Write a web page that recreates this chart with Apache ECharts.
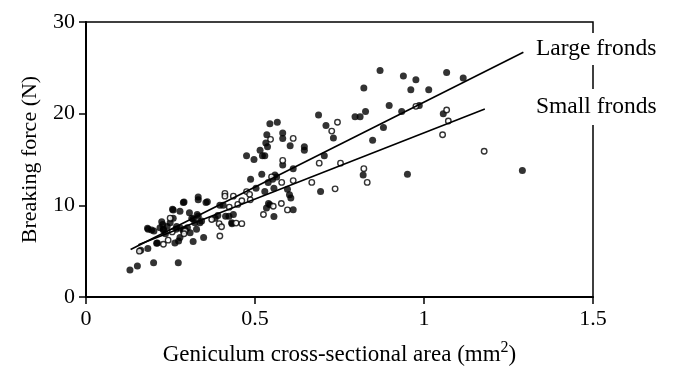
<!DOCTYPE html>
<html>
<head>
<meta charset="utf-8">
<script src="https://cdn.jsdelivr.net/npm/echarts@6/dist/echarts.min.js"></script>
<style>
html,body{margin:0;padding:0;background:#fff;}
#chart{width:674px;height:371px;}
</style>
</head>
<body>
<div id="chart"></div>
<script>
// Large fronds (filled circles): [area mm^2, breaking force N]
var largeFronds = [
[0.130,2.95],[0.152,3.38],[0.200,3.74],[0.273,3.74],
[0.162,5.1],[0.183,5.3],[0.209,5.86],[0.263,5.9],[0.274,6.1],[0.278,6.5],[0.317,6.05],[0.348,6.5],[0.211,5.9],
[0.182,7.5],[0.194,7.3],[0.201,7.2],[0.219,7.55],[0.229,7.3],[0.235,6.9],[0.224,8.2],[0.227,7.9],[0.240,7.7],
[0.249,8.1],[0.268,7.7],[0.280,7.5],[0.293,7.3],[0.300,7.55],[0.308,7.0],[0.327,7.4],[0.184,7.4],[0.229,7.4],
[0.258,8.6],[0.313,8.6],[0.337,8.1],[0.329,9.0],[0.258,9.5],[0.288,10.3],[0.266,7.4],[0.288,7.2],
[0.256,9.57],[0.278,9.35],[0.290,10.36],[0.306,9.2],[0.332,8.8],[0.317,8.5],[0.322,8.1],[0.342,8.3],
[0.332,10.9],[0.332,10.6],[0.355,10.3],[0.359,10.4],[0.382,8.6],[0.390,8.9],
[0.396,10.0],[0.406,10.0],[0.413,8.8],[0.423,8.8],[0.432,7.99],[0.436,9.0],[0.431,8.1],
[0.475,15.4],[0.487,12.84],[0.497,15.0],[0.503,11.87],[0.515,16.0],[0.520,13.4],[0.522,15.4],[0.529,15.4],
[0.529,11.5],[0.532,16.8],[0.537,16.4],[0.535,17.7],[0.539,12.5],[0.544,18.9],[0.552,12.84],[0.556,11.87],
[0.559,13.3],[0.564,13.1],[0.566,19.07],[0.582,17.9],[0.582,17.3],[0.582,14.4],[0.604,16.5],[0.646,16.4],[0.646,16.0],
[0.613,14.0],[0.596,11.76],[0.602,11.15],[0.606,10.8],[0.544,10.07],[0.534,9.71],[0.556,8.77],[0.613,9.53],[0.540,10.2],
[0.688,19.86],[0.694,11.5],[0.705,15.4],[0.710,18.7],[0.732,17.34],[0.796,19.67],[0.811,19.67],[0.827,20.25],
[0.822,22.8],[0.820,13.3],[0.848,17.1],[0.870,24.7],[0.880,18.5],[0.897,20.9],[0.934,20.25],[0.939,24.1],
[0.951,13.4],[0.961,22.6],[0.976,23.7],[0.986,20.9],[1.014,22.6],[1.057,20.0],[1.067,24.5],[1.116,23.9],[1.291,13.8]
];
// Small fronds (open circles)
var smallFronds = [
[0.158,5.0],[0.229,5.75],[0.243,6.2],[0.255,7.1],[0.249,8.6],[0.293,7.2],[0.290,6.9],
[0.372,8.45],[0.394,8.0],[0.401,7.66],[0.396,6.65],[0.411,11.3],[0.411,11.0],[0.424,9.8],[0.436,11.0],
[0.444,8.06],[0.449,10.1],[0.461,10.5],[0.461,8.0],[0.475,11.5],[0.484,11.2],[0.486,10.6],[0.525,9.0],
[0.546,17.2],[0.549,13.1],[0.554,9.9],[0.578,10.2],[0.596,9.5],[0.579,12.5],[0.582,14.9],[0.613,17.3],
[0.613,12.7],[0.668,12.5],[0.690,14.6],[0.727,18.1],[0.744,19.07],[0.737,11.8],[0.753,14.6],[0.822,14.0],
[0.832,12.5],[0.976,20.8],[1.067,20.4],[1.072,19.2],[1.055,17.7],[1.178,15.9]
];
// Fitted regression lines (end points)
var largeLine = [[0.132,5.18],[1.294,26.7]];
var smallLine = [[0.155,5.69],[1.180,20.5]];
var lineLabels = ['Large fronds','Small fronds'];
var xTitle = 'Geniculum cross-sectional area (mm';
var yTitle = 'Breaking force (N)';

var FONT = '"Liberation Serif", "Times New Roman", serif';
var chart = echarts.init(document.getElementById('chart'));
chart.setOption({
  animation:false,
  backgroundColor:'#fff',
  grid:{left:86,right:81,top:22,bottom:71,show:true,borderColor:'#000',borderWidth:1.5,backgroundColor:'transparent'},
  xAxis:{
    type:'value',min:0,max:1.5,interval:0.5,
    axisLine:{show:true,lineStyle:{color:'#000',width:2}},
    axisTick:{show:true,inside:false,length:7,lineStyle:{color:'#000',width:1.5}},
    axisLabel:{color:'#000',fontFamily:FONT,fontSize:22,margin:11,formatter:function(v){return String(v);}},
    splitLine:{show:false},
    name:'{a|'+xTitle+'}{s|2}{a|)}',
    nameLocation:'middle',nameGap:43,
    nameTextStyle:{rich:{
      a:{fontFamily:FONT,fontSize:23,color:'#000',verticalAlign:'bottom',lineHeight:26},
      s:{fontFamily:FONT,fontSize:16,color:'#000',verticalAlign:'top',lineHeight:26,padding:[0,0,9,0]}
    }}
  },
  yAxis:{
    type:'value',min:0,max:30,interval:10,
    axisLine:{show:true,lineStyle:{color:'#000',width:2}},
    axisTick:{show:true,inside:false,length:7,lineStyle:{color:'#000',width:1.5}},
    axisLabel:{color:'#000',fontFamily:FONT,fontSize:22,margin:11},
    splitLine:{show:false},
    name:yTitle,nameLocation:'middle',nameGap:45,
    nameTextStyle:{color:'#000',fontFamily:FONT,fontSize:22}
  },
  series:[
    {type:'scatter',data:largeFronds,symbol:'circle',symbolSize:7,
     itemStyle:{color:'#000'},z:3},
    {type:'scatter',data:smallFronds,symbol:'circle',symbolSize:5.5,
     itemStyle:{color:'#fff',borderColor:'#000',borderWidth:1.4},z:4},
    {type:'line',data:largeLine,symbol:'none',lineStyle:{color:'#000',width:1.6},z:5},
    {type:'line',data:smallLine,symbol:'none',lineStyle:{color:'#000',width:1.6},z:5}
  ],
  graphic:[
    {type:'text',left:531,top:33,z:100,style:{text:lineLabels[0],font:'23.5px '+FONT,fill:'#000',backgroundColor:'#fff',padding:[4,5]}},
    {type:'text',left:531,top:89,z:100,style:{text:lineLabels[1],font:'23.5px '+FONT,fill:'#000',backgroundColor:'#fff',padding:[6,5]}}
  ]
});
</script>
</body>
</html>
